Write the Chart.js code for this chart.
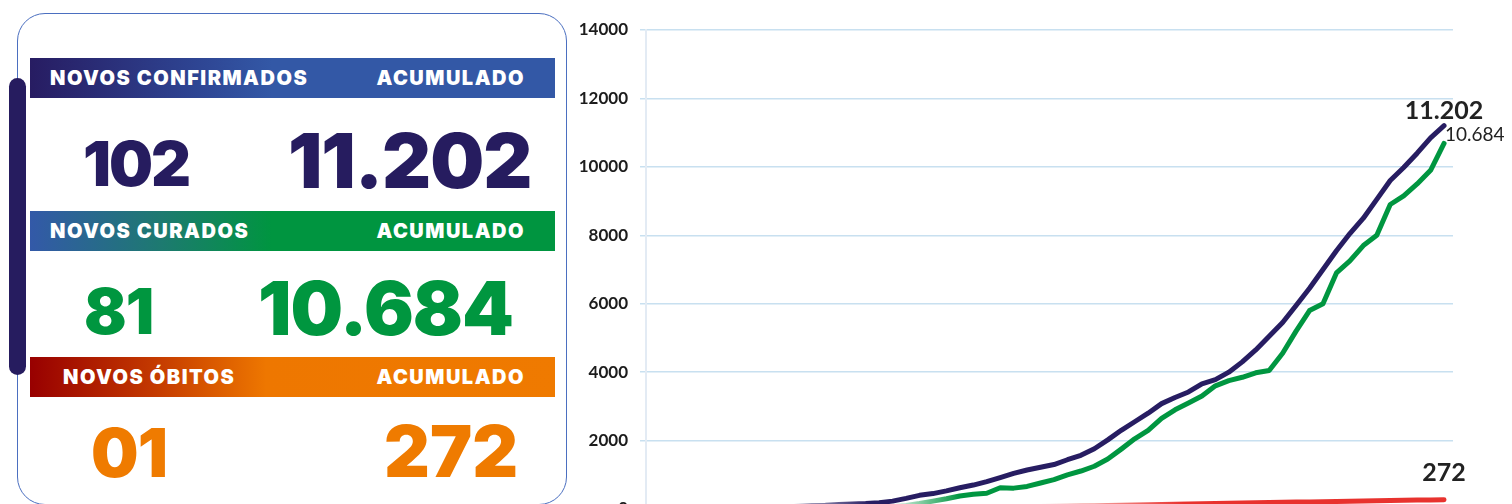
<!DOCTYPE html>
<html>
<head>
<meta charset="utf-8">
<script src="https://cdn.jsdelivr.net/npm/chart.js@4.4.1/dist/chart.umd.min.js"></script>
<style>
  html, body { margin: 0; padding: 0; background: #fff; overflow: hidden; }
  body { width: 1512px; height: 504px; position: relative; font-family: Lato, 'Noto Sans', sans-serif; }
  .box { position: absolute; left: 17px; top: 13px; width: 550px; height: 492px; border: 1px solid #4b6fc0; border-radius: 28px; box-sizing: border-box; }
  .bar { position: absolute; left: 9px; top: 78px; width: 17px; height: 297px; border-radius: 9px; background: #261c5f; }
  .hd { position: absolute; left: 30px; width: 525px; height: 40px; display: flex; align-items: center; justify-content: space-between;
        color: #fff; font-family: Inter, Lato, sans-serif; font-weight: 900; font-size: 20px; box-sizing: border-box;
        padding: 0 30px 0 20px; letter-spacing: 1.5px; }
  .h1 { top: 58px; background: linear-gradient(90deg, #271c62 0%, #2e4593 32%, #3358a6 46%, #3358a6 100%); }
  .h2 { top: 211px; background: linear-gradient(90deg, #3359a8 0%, #1d7a70 25%, #009540 46%, #009540 100%); }
  .h3 { top: 357px; background: linear-gradient(90deg, #980000 0%, #c43a00 24%, #ee7700 45%, #ef7a00 100%); padding-left: 33px; }
  .num { position: absolute; font-family: Inter, Lato, sans-serif; font-weight: 900; line-height: 1; white-space: nowrap; letter-spacing: -1px; }
  #wrap { position: absolute; left: 570px; top: 0; width: 942px; height: 540px; }
</style>
</head>
<body>
<div class="box"></div>
<div class="bar"></div>

<div class="hd h1"><span>NOVOS CONFIRMADOS</span><span>ACUMULADO</span></div>
<div class="num" style="left:83px; top:133px; font-size:62px; color:#261c5f; letter-spacing:-2px;">102</div>
<div class="num" style="left:288px; top:122px; font-size:76px; color:#261c5f;">11.202</div>

<div class="hd h2"><span>NOVOS CURADOS</span><span>ACUMULADO</span></div>
<div class="num" style="left:84px; top:280px; font-size:63px; color:#00963f;">81</div>
<div class="num" style="left:258px; top:271px; font-size:74px; color:#00963f;">10.684</div>

<div class="hd h3"><span>NOVOS ÓBITOS</span><span>ACUMULADO</span></div>
<div class="num" style="left:91px; top:419px; font-size:67px; color:#ef7b00;">01</div>
<div class="num" style="left:384px; top:416px; font-size:71px; color:#ef7b00; letter-spacing:0px;">272</div>

<div id="wrap"><canvas id="curva" width="942" height="540"></canvas></div>

<script>
// dias desde o inicio da serie
const dias = [25, 28, 31, 34, 37, 40, 43, 46, 49, 52, 55, 58, 61, 64, 67, 70, 73, 76, 79, 82,
  85, 88, 91, 94, 97, 100, 103, 106, 109, 112, 115, 118, 121, 124, 127, 130, 133, 136, 139, 142,
  145, 148, 151, 154, 157, 160, 163, 166, 169, 172, 175, 178]

const confirmados = [10, 40, 60, 80, 100, 110, 130, 145, 160, 185, 230, 310, 400, 450, 530, 620, 700, 800, 920, 1040,
  1140, 1220, 1300, 1440, 1570, 1760, 2020, 2300, 2550, 2800, 3080, 3260, 3420, 3660, 3780, 4000, 4300, 4650, 5050, 5450,
  5950, 6450, 7000, 7550, 8050, 8500, 9050, 9600, 9980, 10400, 10850, 11202]

const curados = [0, 0, 5, 10, 15, 20, 25, 30, 40, 50, 70, 100, 160, 230, 300, 380, 430, 460, 620, 610,
  660, 760, 860, 1000, 1110, 1250, 1460, 1750, 2050, 2300, 2650, 2900, 3100, 3300, 3600, 3750, 3850, 3980, 4050, 4550,
  5200, 5800, 6000, 6900, 7250, 7700, 8000, 8900, 9150, 9500, 9900, 10684]

const obitos = [0, 1, 2, 3, 4, 6, 8, 10, 12, 15, 18, 22, 26, 30, 35, 40, 45, 50, 56, 62,
  68, 74, 80, 86, 92, 98, 104, 110, 117, 124, 131, 138, 145, 152, 159, 166, 173, 180, 187, 194,
  201, 208, 215, 222, 229, 236, 243, 250, 256, 261, 266, 272]

const rotulos = ['11.202', '10.684', '272']
const yTicks = [0, 2000, 4000, 6000, 8000, 10000, 12000, 14000]

const pontos = (vals) => dias.map((d, i) => ({ x: d, y: vals[i] }))

// linha que aparece aos poucos da esquerda
function fade(rgb, de, ate) {
  return (ctx) => {
    const chart = ctx.chart
    if (!chart.chartArea) return 'rgb(' + rgb + ')'
    const sx = chart.scales.x
    const g = chart.ctx.createLinearGradient(sx.getPixelForValue(de), 0, sx.getPixelForValue(ate), 0)
    g.addColorStop(0, 'rgba(' + rgb + ',0)')
    g.addColorStop(1, 'rgba(' + rgb + ',1)')
    return g
  }
}

const rotuloFinal = {
  id: 'rotuloFinal',
  afterDatasetsDraw(chart) {
    const c = chart.ctx
    const p0 = chart.getDatasetMeta(0).data.at(-1)
    const p1 = chart.getDatasetMeta(1).data.at(-1)
    const p2 = chart.getDatasetMeta(2).data.at(-1)
    c.save()
    c.fillStyle = '#222'
    c.textBaseline = 'alphabetic'
    c.textAlign = 'center'
    c.font = 'bold 25px Lato'
    c.fillText(rotulos[0], p0.x, p0.y - 7)
    c.textAlign = 'left'
    c.font = '19px Lato'
    c.fillText(rotulos[1], p1.x + 1, p1.y - 2)
    c.textAlign = 'center'
    c.font = 'bold 25px Lato'
    c.fillText(rotulos[2], p2.x, p2.y - 19)
    c.restore()
  }
}

new Chart(document.getElementById('curva'), {
  type: 'line',
  data: {
    datasets: [{
      label: 'Confirmados',
      data: pontos(confirmados),
      borderColor: fade('39,29,98', 25, 50),
      borderWidth: 5
    }, {
      label: 'Curados',
      data: pontos(curados),
      borderColor: fade('0,150,64', 53, 70),
      borderWidth: 5
    }, {
      label: 'Óbitos',
      data: pontos(obitos),
      borderColor: fade('232,50,46', 82, 120),
      borderWidth: 5
    }]
  },
  options: {
    responsive: false,
    animation: false,
    layout: { padding: { top: 30, right: 59, bottom: 31, left: 0 } },
    elements: {
      point: { radius: 0 },
      line: { tension: 0, borderCapStyle: 'round', borderJoinStyle: 'round' }
    },
    plugins: { legend: { display: false }, tooltip: { enabled: false } },
    scales: {
      x: { type: 'linear', min: 0, max: 180, display: false },
      y: {
        min: 0,
        max: 14000,
        afterFit: (s) => { s.width = 76 },
        afterBuildTicks: (s) => { s.ticks = yTicks.map(v => ({ value: v })) },
        ticks: {
          color: '#1c1c1c',
          padding: 12,
          font: { family: 'Lato', weight: 'bold', size: 17 },
          callback: (v) => String(v)
        },
        grid: { color: '#c8e0f0', lineWidth: 1.5, tickLength: 6 },
        border: { color: '#e3ebf4', width: 2 }
      }
    }
  },
  plugins: [rotuloFinal]
})
</script>
</body>
</html>
